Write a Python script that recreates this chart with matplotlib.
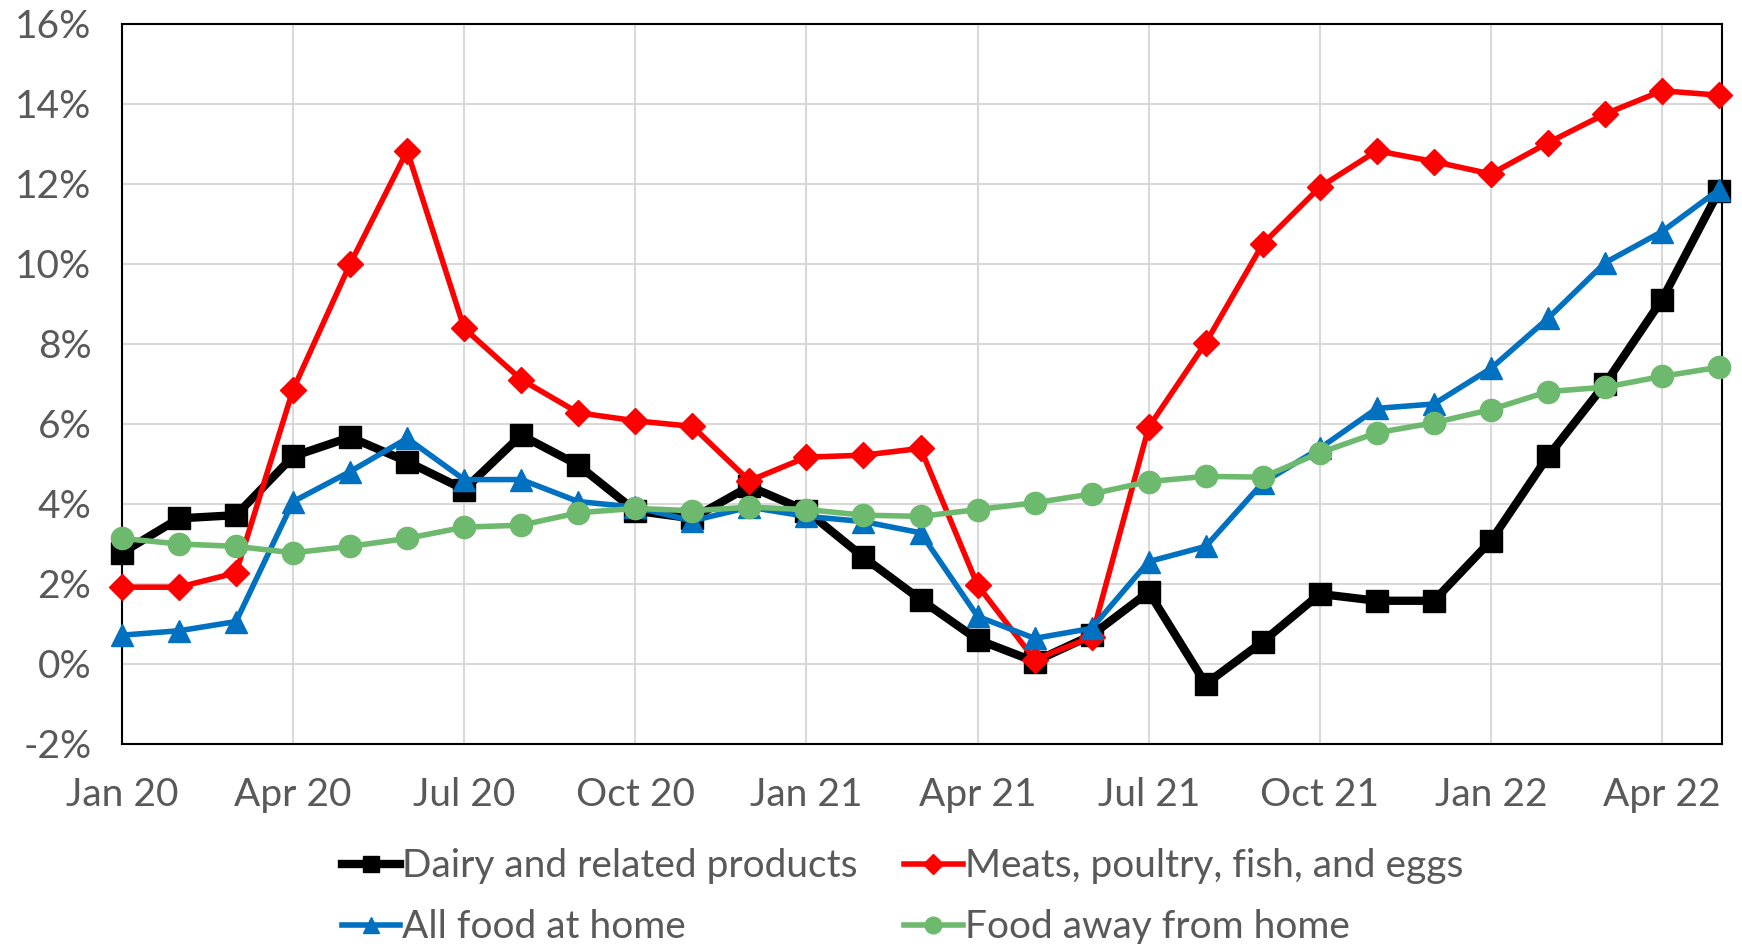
import matplotlib
matplotlib.use("Agg")
import matplotlib.pyplot as plt

months = ["Jan 20","Feb 20","Mar 20","Apr 20","May 20","Jun 20","Jul 20","Aug 20","Sep 20","Oct 20","Nov 20","Dec 20",
          "Jan 21","Feb 21","Mar 21","Apr 21","May 21","Jun 21","Jul 21","Aug 21","Sep 21","Oct 21","Nov 21","Dec 21",
          "Jan 22","Feb 22","Mar 22","Apr 22","May 22"]

dairy = [2.78, 3.64, 3.72, 5.19, 5.67, 5.06, 4.36, 5.72, 4.97, 3.83, 3.64, 4.44,
         3.83, 2.67, 1.61, 0.61, 0.06, 0.72, 1.80, -0.50, 0.56, 1.75, 1.58, 1.58,
         3.08, 5.19, 7.00, 9.11, 11.83]
meats = [1.92, 1.92, 2.28, 6.86, 10.00, 12.83, 8.39, 7.11, 6.28, 6.08, 5.94, 4.58,
         5.17, 5.22, 5.39, 1.97, 0.11, 0.67, 5.92, 8.03, 10.50, 11.92, 12.83, 12.56,
         12.25, 13.03, 13.75, 14.33, 14.22]
home = [0.72, 0.83, 1.06, 4.06, 4.81, 5.64, 4.61, 4.61, 4.06, 3.92, 3.58, 3.92,
        3.69, 3.56, 3.28, 1.19, 0.64, 0.89, 2.56, 2.94, 4.53, 5.39, 6.39, 6.50,
        7.39, 8.64, 10.03, 10.81, 11.86]
away = [3.14, 3.00, 2.94, 2.78, 2.94, 3.14, 3.42, 3.47, 3.78, 3.89, 3.83, 3.92,
        3.86, 3.72, 3.69, 3.86, 4.03, 4.25, 4.56, 4.69, 4.67, 5.28, 5.78, 6.03,
        6.36, 6.81, 6.92, 7.19, 7.42]

series_names = ["Dairy and related products", "Meats, poultry, fish, and eggs",
                "All food at home", "Food away from home"]
y_ticks = [-2, 0, 2, 4, 6, 8, 10, 12, 14, 16]

plt.rcParams['font.family'] = ['Lato', 'DejaVu Sans']
txt = '#595959'
FS = 28

fig = plt.figure(figsize=(17.42, 9.44), dpi=100)
ax = fig.add_axes([0.070, 0.2119, 0.9185, 0.7627])

x = list(range(len(months)))
l1, = ax.plot(x, dairy, color='black', lw=6, marker='s', ms=16, label=series_names[0], clip_on=False, zorder=3)
l2, = ax.plot(x, meats, color='#ff0000', lw=4, marker='D', ms=13.5, label=series_names[1], clip_on=False, zorder=4)
l3, = ax.plot(x, home, color='#0070c0', lw=4, marker='^', ms=16, label=series_names[2], clip_on=False, zorder=5)
l4, = ax.plot(x, away, color='#6db96d', lw=4, marker='o', ms=16, label=series_names[3], clip_on=False, zorder=6)

ax.set_xlim(0, 28.05)
ax.set_ylim(-2, 16)
ax.set_yticks(y_ticks)
ax.set_yticklabels([f"{v}%" for v in y_ticks])
xt = list(range(0, len(months), 3))
ax.set_xticks(xt)
ax.set_xticklabels([months[i] for i in xt])
ax.grid(True, color='#d9d9d9', lw=1.5)
ax.set_axisbelow(True)
for s in ax.spines.values():
    s.set_color('black')
    s.set_linewidth(1.5)
ax.tick_params(axis='both', length=0, labelsize=FS, colors=txt)
ax.tick_params(axis='x', pad=24)
ax.tick_params(axis='y', pad=22)

handles = [l1, l3, l2, l4]
fig.legend(handles=handles, labels=[h.get_label() for h in handles],
           loc='center', bbox_to_anchor=(0.518, 0.050), ncol=2, frameon=False,
           fontsize=FS, labelcolor=txt, handlelength=1.5, handletextpad=0.05,
           columnspacing=1.2, labelspacing=0.65, markerscale=0.75)

fig.savefig('out.png', dpi=100)
